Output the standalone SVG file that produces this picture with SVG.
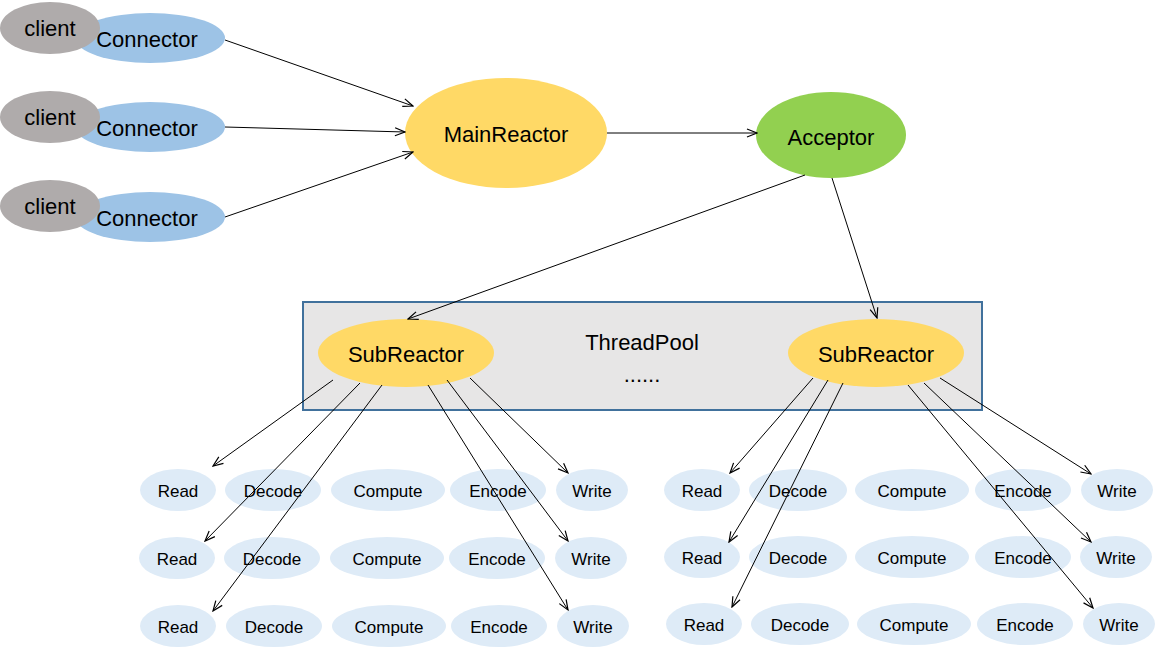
<svg xmlns="http://www.w3.org/2000/svg" width="1155" height="648" viewBox="0 0 1155 648">
<defs>
<marker id="arr" viewBox="0 0 12 10" refX="11" refY="5" markerWidth="12" markerHeight="10" markerUnits="userSpaceOnUse" orient="auto">
<path d="M1,1 L11,5 L1,9" fill="none" stroke="#000" stroke-width="1.2"/>
</marker>
<style>
text{font-family:"Liberation Sans",Arial,sans-serif;fill:#000;text-anchor:middle}
.big{font-size:22px}
.sm{font-size:17px}
.client{fill:#afabab}
.conn{fill:#9dc3e6}
.yel{fill:#ffd966}
.grn{fill:#92d050}
.op{fill:#deebf7}
.edge{stroke:#000;stroke-width:1;fill:none;marker-end:url(#arr)}
</style>
</defs>
<rect width="1155" height="648" fill="#fff"/>

<g id="threadpool">
<rect x="303" y="302" width="679" height="108" fill="#e7e6e6" stroke="#41719c" stroke-width="2"/>
<text class="big" x="642" y="350">ThreadPool</text>
<text class="big" x="642" y="382">......</text>
</g>

<g id="connector1"><ellipse class="conn" cx="150" cy="38" rx="75" ry="25"/><text class="big" x="147" y="47">Connector</text></g>
<g id="client1"><ellipse class="client" cx="50" cy="28" rx="50" ry="26"/><text class="big" x="50" y="36">client</text></g>
<g id="connector2"><ellipse class="conn" cx="150" cy="127" rx="75" ry="25"/><text class="big" x="147" y="136">Connector</text></g>
<g id="client2"><ellipse class="client" cx="50" cy="117" rx="50" ry="26"/><text class="big" x="50" y="125">client</text></g>
<g id="connector3"><ellipse class="conn" cx="150" cy="217" rx="75" ry="25"/><text class="big" x="147" y="226">Connector</text></g>
<g id="client3"><ellipse class="client" cx="50" cy="206" rx="50" ry="26"/><text class="big" x="50" y="214">client</text></g>

<g id="mainreactor"><ellipse class="yel" cx="506" cy="133" rx="101" ry="55"/><text class="big" x="506" y="142">MainReactor</text></g>
<g id="acceptor"><ellipse class="grn" cx="831" cy="135" rx="75" ry="43"/><text class="big" x="831" y="145">Acceptor</text></g>

<g id="subreactor-left"><ellipse class="yel" cx="406" cy="353" rx="88" ry="34"/><text class="big" x="406" y="362">SubReactor</text></g>
<g id="subreactor-right"><ellipse class="yel" cx="876" cy="353" rx="88" ry="34"/><text class="big" x="876" y="362">SubReactor</text></g>

<g id="ops-left-1">
<ellipse class="op" cx="178" cy="490" rx="38" ry="21"/><text class="sm" x="178" y="497">Read</text>
<ellipse class="op" cx="273" cy="490" rx="48" ry="21"/><text class="sm" x="273" y="497">Decode</text>
<ellipse class="op" cx="388" cy="490" rx="57" ry="21"/><text class="sm" x="388" y="497">Compute</text>
<ellipse class="op" cx="498" cy="490" rx="48" ry="21"/><text class="sm" x="498" y="497">Encode</text>
<ellipse class="op" cx="592" cy="490" rx="36" ry="21"/><text class="sm" x="592" y="497">Write</text>
</g>
<g id="ops-left-2">
<ellipse class="op" cx="177" cy="558" rx="38" ry="21"/><text class="sm" x="177" y="565">Read</text>
<ellipse class="op" cx="272" cy="558" rx="48" ry="21"/><text class="sm" x="272" y="565">Decode</text>
<ellipse class="op" cx="387" cy="558" rx="57" ry="21"/><text class="sm" x="387" y="565">Compute</text>
<ellipse class="op" cx="497" cy="558" rx="48" ry="21"/><text class="sm" x="497" y="565">Encode</text>
<ellipse class="op" cx="591" cy="558" rx="36" ry="21"/><text class="sm" x="591" y="565">Write</text>
</g>
<g id="ops-left-3">
<ellipse class="op" cx="178" cy="626" rx="38" ry="21"/><text class="sm" x="178" y="633">Read</text>
<ellipse class="op" cx="274" cy="626" rx="48" ry="21"/><text class="sm" x="274" y="633">Decode</text>
<ellipse class="op" cx="389" cy="626" rx="57" ry="21"/><text class="sm" x="389" y="633">Compute</text>
<ellipse class="op" cx="499" cy="626" rx="48" ry="21"/><text class="sm" x="499" y="633">Encode</text>
<ellipse class="op" cx="593" cy="626" rx="36" ry="21"/><text class="sm" x="593" y="633">Write</text>
</g>
<g id="ops-right-1">
<ellipse class="op" cx="702" cy="490" rx="38" ry="21"/><text class="sm" x="702" y="497">Read</text>
<ellipse class="op" cx="798" cy="490" rx="49" ry="21"/><text class="sm" x="798" y="497">Decode</text>
<ellipse class="op" cx="912" cy="490" rx="57" ry="21"/><text class="sm" x="912" y="497">Compute</text>
<ellipse class="op" cx="1023" cy="490" rx="48" ry="21"/><text class="sm" x="1023" y="497">Encode</text>
<ellipse class="op" cx="1117" cy="490" rx="36" ry="21"/><text class="sm" x="1117" y="497">Write</text>
</g>
<g id="ops-right-2">
<ellipse class="op" cx="702" cy="557" rx="38" ry="21"/><text class="sm" x="702" y="564">Read</text>
<ellipse class="op" cx="798" cy="557" rx="49" ry="21"/><text class="sm" x="798" y="564">Decode</text>
<ellipse class="op" cx="912" cy="557" rx="57" ry="21"/><text class="sm" x="912" y="564">Compute</text>
<ellipse class="op" cx="1023" cy="557" rx="48" ry="21"/><text class="sm" x="1023" y="564">Encode</text>
<ellipse class="op" cx="1116" cy="557" rx="36" ry="21"/><text class="sm" x="1116" y="564">Write</text>
</g>
<g id="ops-right-3">
<ellipse class="op" cx="704" cy="624" rx="38" ry="21"/><text class="sm" x="704" y="631">Read</text>
<ellipse class="op" cx="800" cy="624" rx="49" ry="21"/><text class="sm" x="800" y="631">Decode</text>
<ellipse class="op" cx="914" cy="624" rx="57" ry="21"/><text class="sm" x="914" y="631">Compute</text>
<ellipse class="op" cx="1025" cy="624" rx="48" ry="21"/><text class="sm" x="1025" y="631">Encode</text>
<ellipse class="op" cx="1119" cy="624" rx="36" ry="21"/><text class="sm" x="1119" y="631">Write</text>
</g>

<g id="connectors">
<line class="edge" x1="225" y1="40" x2="413" y2="106"/>
<line class="edge" x1="225" y1="127" x2="405" y2="132"/>
<line class="edge" x1="225" y1="217" x2="413" y2="152"/>
<line class="edge" x1="607" y1="133" x2="757" y2="133"/>
<line class="edge" x1="805" y1="175" x2="408" y2="319"/>
<line class="edge" x1="832" y1="178" x2="877" y2="318"/>
<line class="edge" x1="333" y1="380" x2="213" y2="466"/>
<line class="edge" x1="360" y1="383" x2="205" y2="541"/>
<line class="edge" x1="382" y1="385" x2="213" y2="611"/>
<line class="edge" x1="428" y1="385" x2="568" y2="610"/>
<line class="edge" x1="447" y1="380" x2="568" y2="541"/>
<line class="edge" x1="470" y1="378" x2="568" y2="473"/>
<line class="edge" x1="813" y1="378" x2="730" y2="473"/>
<line class="edge" x1="828" y1="380" x2="729" y2="542"/>
<line class="edge" x1="843" y1="383" x2="732" y2="607"/>
<line class="edge" x1="908" y1="385" x2="1093" y2="608"/>
<line class="edge" x1="924" y1="383" x2="1091" y2="542"/>
<line class="edge" x1="940" y1="378" x2="1091" y2="474"/>
</g>
</svg>
